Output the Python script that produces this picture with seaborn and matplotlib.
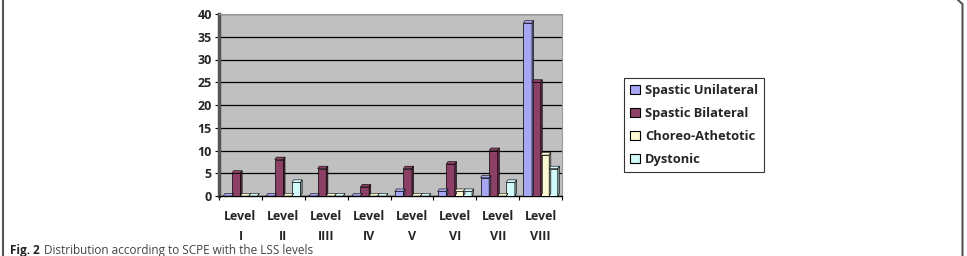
import matplotlib
matplotlib.use("Agg")
import matplotlib.pyplot as plt
import seaborn as sns
import pandas as pd
from matplotlib.patches import Polygon
from matplotlib.lines import Line2D

levels = ["Level\nI", "Level\nII", "Level\nIIII", "Level\nIV", "Level\nV", "Level\nVI", "Level\nVII", "Level\nVIII"]
series = ["Spastic Unilateral", "Spastic Bilateral", "Choreo-Athetotic", "Dystonic"]
spastic_unilateral = [0, 0, 0, 0, 1, 1, 4, 38]
spastic_bilateral = [5, 8, 6, 2, 6, 7, 10, 25]
choreo_athetotic = [0, 0, 0, 0, 0, 1, 0, 9]
dystonic = [0, 3, 0, 0, 0, 1, 3, 6]
colors = ["#9999FF", "#993366", "#FFFFCC", "#CCFFFF"]
yticks = [0, 5, 10, 15, 20, 25, 30, 35, 40]
caption_bold = "Fig. 2"
caption_text = "Distribution according to SCPE with the LSS levels"

rows = []
for s, vals in zip(series, [spastic_unilateral, spastic_bilateral, choreo_athetotic, dystonic]):
    for lv, v in zip(levels, vals):
        rows.append({"Level": lv, "Series": s, "Value": v})
df = pd.DataFrame(rows)

sns.set_theme(style="white")
plt.rcParams['font.family'] = ['Open Sans', 'DejaVu Sans']

fig = plt.figure(figsize=(9.67, 2.56), dpi=100)
ax = fig.add_axes([219/967, 1-196/256, (562-219)/967, (196-14)/256])
ax.set_facecolor("#C0C0C0")

sns.barplot(data=df, x="Level", y="Value", hue="Series", palette=colors,
            order=levels, hue_order=series, width=0.8, ax=ax,
            edgecolor="black", linewidth=0.5, legend=True, zorder=3)

# pseudo 3D depth derived from drawn bars
dx, dy = 0.04, 0.55
for p in list(ax.patches):
    if not hasattr(p, "get_x"):
        continue
    x0 = p.get_x(); w = p.get_width(); h = p.get_height()
    if w <= 0:
        continue
    fc = p.get_facecolor()
    dark = tuple(max(0, c*0.6) for c in fc[:3])
    top = Polygon([[x0, h], [x0+dx, h+dy], [x0+w+dx, h+dy], [x0+w, h]], closed=True,
                  facecolor=fc, edgecolor="black", linewidth=0.4, zorder=3)
    side = Polygon([[x0+w, 0], [x0+w+dx, dy], [x0+w+dx, h+dy], [x0+w, h]], closed=True,
                   facecolor=dark, edgecolor="black", linewidth=0.4, zorder=3)
    ax.add_patch(top); ax.add_patch(side)

ax.set_ylim(0, 40)
ax.set_xlim(-0.5, len(levels)-0.5)
ax.set_yticks(yticks)
ax.set_yticklabels([str(t) for t in yticks], fontsize=9, fontweight="bold")
ax.yaxis.grid(True, color="black", linewidth=0.9, zorder=0)
ax.set_axisbelow(True)
ax.set_xlabel(""); ax.set_ylabel("")
ax.set_xticks(range(len(levels)))
ax.set_xticklabels(levels, fontsize=9, fontweight="bold", linespacing=1.75)
ax.tick_params(axis="x", length=0, pad=10)
ax.tick_params(axis="y", length=3, width=0.8, color="black", left=True, pad=2)
ax.set_xticks([i-0.5 for i in range(len(levels)+1)], minor=True)
ax.tick_params(axis="x", which="minor", length=3, width=0.8, color="black", bottom=True)
for side_name in ["top", "right"]:
    ax.spines[side_name].set_color("#999999")
    ax.spines[side_name].set_linewidth(0.8)
ax.spines["left"].set_color("#555555")
ax.spines["bottom"].set_color("black")
ax.spines["left"].set_linewidth(2.5)
ax.spines["bottom"].set_linewidth(1.0)

leg = ax.legend(loc="upper left", bbox_to_anchor=(624/967, 1-78/256), bbox_transform=fig.transFigure,
                frameon=True, fancybox=False, edgecolor="black",
                prop={"weight": "bold", "size": 9.3}, handlelength=0.75, handleheight=0.75,
                handletextpad=0.45, labelspacing=0.78, borderpad=0.45, borderaxespad=0)
leg.get_frame().set_linewidth(0.8)
for h in leg.legend_handles:
    h.set_edgecolor("black"); h.set_linewidth(0.8)

# outer page frame: left and right rules
fig.add_artist(Line2D([2.5/967, 2.5/967], [0, 1], transform=fig.transFigure, color="#555555", linewidth=1.5))
fig.add_artist(Line2D([958/967, 962.5/967, 962.5/967], [1, 1-4/256, 0], transform=fig.transFigure,
                      color="#555555", linewidth=1.5))

fig.text(10/967, 1-244/256, caption_bold, fontsize=8.5, fontweight="bold", va="top", ha="left", color="#222222")
fig.text(44/967, 1-244/256, caption_text, fontsize=8.5, va="top", ha="left", color="#444444")

fig.savefig("out.png", dpi=100, facecolor="white")
